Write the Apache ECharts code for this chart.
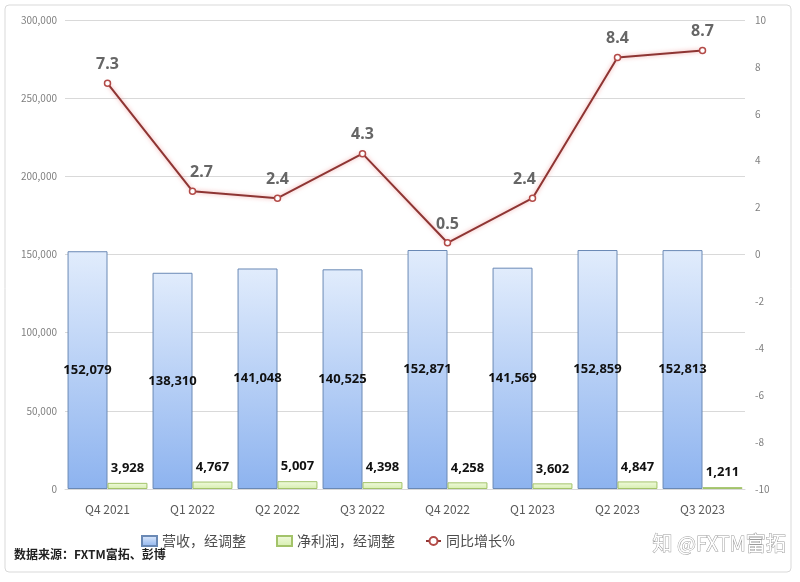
<!DOCTYPE html>
<html>
<head>
<meta charset="utf-8">
<script src="https://cdn.jsdelivr.net/npm/echarts@6/dist/echarts.min.js"></script>
<style>
  html, body { margin: 0; padding: 0; background: #fff; }
  #main { width: 800px; height: 582px; }
</style>
</head>
<body>
<div id="main"></div>
<script>
// 季度
var quarters = ["Q4 2021", "Q1 2022", "Q2 2022", "Q3 2022", "Q4 2022", "Q1 2023", "Q2 2023", "Q3 2023"];
// 营收，经调整
var revenue = [152079, 138310, 141048, 140525, 152871, 141569, 152859, 152813];
// 净利润，经调整
var netProfit = [3928, 4767, 5007, 4398, 4258, 3602, 4847, 1211];
// 同比增长%
var growth = [7.3, 2.7, 2.4, 4.3, 0.5, 2.4, 8.4, 8.7];

(function() {
  var myChart = echarts.init(document.getElementById("main"));
  var cjk = "'Noto Sans CJK SC', 'Noto Sans', sans-serif";

  function fmt(v) {
    return String(v).replace(/\B(?=(\d{3})+(?!\d))/g, ",");
  }

  // 个别标签稍微偏移，和原图一致
  var labelOffsets = { 1: [9, 0], 5: [-8, 0] };
  var growthData = growth.map(function(v, i) {
    var item = { value: v };
    if (labelOffsets[i]) item.label = { offset: labelOffsets[i] };
    return item;
  });

  var option = {
    backgroundColor: "#fff",
    textStyle: { fontFamily: cjk },
    animation: false,
    graphic: [
      {
        type: "rect",
        shape: { x: 5, y: 5, width: 786, height: 567, r: 4 },
        style: { fill: "none", stroke: "#d9d9d9", lineWidth: 1 }
      },
      {
        type: "text",
        left: 14,
        top: 548,
        style: { text: "数据来源：FXTM富拓、彭博", fontSize: 12, fontWeight: "bold", fill: "#222", fontFamily: cjk }
      },
      {
        type: "text",
        left: 652,
        top: 533,
        style: {
          text: "知 @FXTM富拓", fontSize: 20, fill: "#fff", stroke: "#9a9a9a", lineWidth: 1,
          fontFamily: cjk
        }
      }
    ],
    legend: {
      left: 136,
      top: 529,
      itemGap: 30,
      itemWidth: 15,
      itemHeight: 10,
      textStyle: { color: "#4d4d4d", fontSize: 14, fontFamily: cjk },
      data: [
        { name: "营收，经调整", icon: "rect" },
        { name: "净利润，经调整", icon: "rect" },
        { name: "同比增长%" }
      ]
    },
    grid: {
      left: 65,
      right: 55,
      top: 20,
      bottom: 93,
      containLabel: false
    },
    xAxis: {
      type: "category",
      data: quarters,
      axisTick: { show: false },
      axisLine: { lineStyle: { color: "#d9d9d9" } },
      axisLabel: { color: "#595959", fontSize: 12, margin: 14 }
    },
    yAxis: [
      {
        type: "value",
        min: 0,
        max: 300000,
        interval: 50000,
        axisLine: { show: false },
        axisTick: { show: false },
        axisLabel: { color: "#7f7f7f", fontSize: 10, formatter: function(v) { return fmt(v); } },
        splitLine: { lineStyle: { color: "#d9d9d9" } }
      },
      {
        type: "value",
        min: -10,
        max: 10,
        interval: 2,
        axisLine: { show: false },
        axisTick: { show: false },
        axisLabel: { color: "#7f7f7f", fontSize: 10, margin: 10 },
        splitLine: { show: false }
      }
    ],
    series: [
      {
        name: "营收，经调整",
        type: "bar",
        yAxisIndex: 0,
        barGap: "0%",
        barCategoryGap: "6%",
        itemStyle: {
          color: new echarts.graphic.LinearGradient(0, 0, 0, 1, [
            { offset: 0, color: "#e1ecfc" },
            { offset: 1, color: "#8db3ef" }
          ]),
          borderColor: "#6a89b5",
          borderWidth: 1
        },
        label: {
          show: true,
          position: "inside",
          color: "#111",
          fontWeight: "bold",
          fontSize: 13,
          fontFamily: "'Noto Sans', sans-serif",
          formatter: function(p) { return fmt(p.value); }
        },
        data: revenue
      },
      {
        name: "净利润，经调整",
        type: "bar",
        yAxisIndex: 0,
        itemStyle: {
          color: new echarts.graphic.LinearGradient(0, 0, 0, 1, [
            { offset: 0, color: "#f1fadf" },
            { offset: 1, color: "#d6eeae" }
          ]),
          borderColor: "#a3c36a",
          borderWidth: 1
        },
        label: {
          show: true,
          position: "top",
          distance: 8,
          color: "#111",
          fontWeight: "bold",
          fontSize: 13,
          fontFamily: "'Noto Sans', sans-serif",
          formatter: function(p) { return fmt(p.value); }
        },
        data: netProfit
      },
      {
        name: "同比增长%",
        type: "line",
        yAxisIndex: 1,
        symbol: "circle",
        symbolSize: 6,
        lineStyle: {
          color: "#8e3533",
          width: 2,
          shadowColor: "rgba(235,130,130,0.7)",
          shadowBlur: 4
        },
        itemStyle: {
          color: "#fff",
          borderColor: "#b24a47",
          borderWidth: 1.5
        },
        label: {
          show: true,
          position: "top",
          distance: 7,
          color: "#666",
          fontWeight: "bold",
          fontSize: 16,
          fontFamily: "'Noto Sans', sans-serif"
        },
        data: growthData
      }
    ]
  };

  myChart.setOption(option);

  window.addEventListener("resize", function() {
    myChart.resize();
  });
})();
</script>
</body>
</html>
